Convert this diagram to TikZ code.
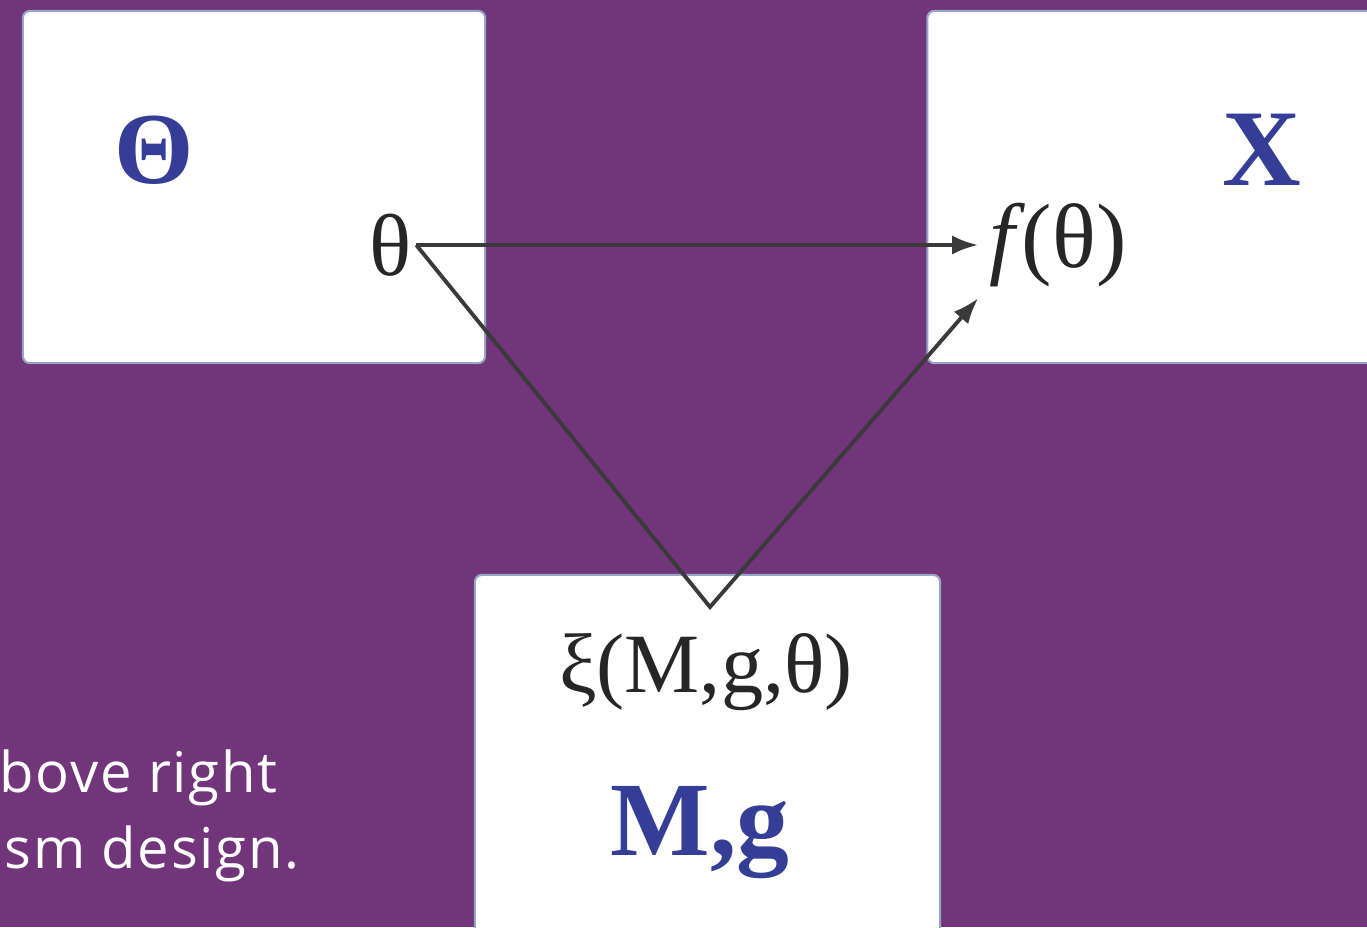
\documentclass[tikz,border=0pt]{standalone}
\usepackage{fontspec}
\setmainfont{Liberation Serif}
\newfontfamily\notefont[LetterSpace=3]{Open Sans}
\usepackage{xcolor}
\usepackage{tikz}
\usetikzlibrary{arrows.meta,positioning,calc}
\definecolor{bgpurple}{RGB}{114,52,123}
\definecolor{setblue}{RGB}{52,62,150}
\definecolor{panelborder}{RGB}{150,166,196}
\definecolor{mapgray}{RGB}{58,58,58}

\begin{document}
\begin{tikzpicture}[x=0.01cm, y=-0.01cm,
  panel/.style={draw=panelborder, fill=white, line width=0.6pt, rounded corners=2pt, inner sep=0pt},
  setlabel/.style={text=setblue, font=\bfseries\fontsize{30}{32}\selectfont, inner sep=0pt},
  pointlabel/.style={text=black!85, font=\fontsize{25}{28}\selectfont, inner sep=1pt},
  map/.style={-{Latex[length=0.26cm, width=0.19cm]}, line width=1.1pt, mapgray},
  note/.style={text=white, font=\notefont\fontsize{16}{20}\selectfont, inner sep=0pt}
]
\fill[bgpurple] (0,0) rectangle (1367,927);
\useasboundingbox (0,0) rectangle (1367,927);

% the three sets
\node[panel, minimum width=4.62cm, minimum height=3.52cm] (thetabox) at (254,187) {};
\node[panel, minimum width=4.55cm, minimum height=3.52cm] (xbox) at (1155,187) {};
\node[panel, minimum width=4.65cm, minimum height=3.65cm] (mgbox) at (707.5,757.5) {};

\node[setlabel, font=\bfseries\fontsize{29}{32}\selectfont] (Theta) at (154,150) {Θ};
\node[setlabel, font=\bfseries\fontsize{31}{34}\selectfont] (X) at (1262,150) {X};
\node[setlabel] (Mg) at (700,833) {M,g};

% points and maps
\node[pointlabel] (theta) at (391,245) {θ};
\node[pointlabel, font=\fontsize{26}{28}\selectfont] (ftheta) at (1058,245) {\textit{f}\kern-1pt(θ)};
\node[pointlabel, font=\fontsize{24}{28}\selectfont] (xi) at (706,672) {ξ(M,g,θ)};
\coordinate (v) at (710,607);

\draw[map] (theta.east) -- ($(ftheta.west)+(-7,0)$);
\draw[map] (theta.east) -- (v) -- ($(ftheta.south west)+(-7,7)$);

\node[note, anchor=base west] (notea) at (-1,792) {bove right};
\node[note, anchor=base west] (noteb) at (4,868) {sm design.};

\end{tikzpicture}
\end{document}
